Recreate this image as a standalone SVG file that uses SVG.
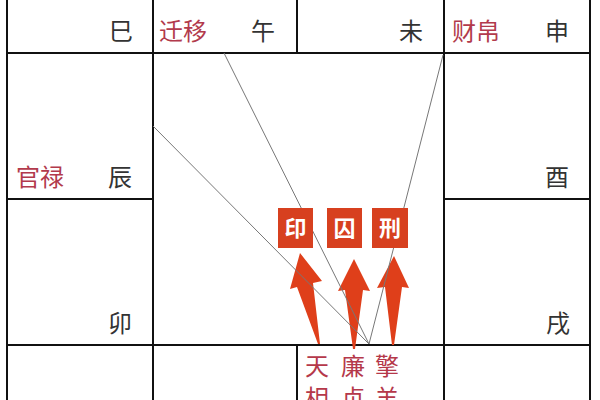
<svg xmlns="http://www.w3.org/2000/svg" width="600" height="400" viewBox="0 0 600 400">
<style>
.grid{stroke:#111;stroke-width:2;fill:none}
.br{font-family:"Noto Sans CJK SC","Noto Sans",sans-serif;font-size:24px;fill:#333}
.pal{font-family:"Noto Sans CJK SC","Noto Sans",sans-serif;font-size:24px;fill:#b23a4c}
.star{font-family:"Noto Sans CJK SC","Noto Sans",sans-serif;font-size:24px;fill:#b5384a}
.tag{fill:#d7401f}
.tagt{font-family:"Noto Sans CJK SC","Noto Sans",sans-serif;font-size:22px;font-weight:bold;fill:#fff;text-anchor:middle}
.arr{fill:#df3f1a}
.ln{stroke:#777;stroke-width:1;fill:none}
</style>
<rect width="600" height="400" fill="#fff"/>
<g id="grid" class="grid">
<line x1="7" y1="0" x2="7" y2="400"/>
<line x1="153" y1="0" x2="153" y2="400"/>
<line x1="297" y1="0" x2="297" y2="53"/>
<line x1="297" y1="345" x2="297" y2="400"/>
<line x1="444" y1="0" x2="444" y2="400"/>
<line x1="590" y1="0" x2="590" y2="400"/>
<line x1="7" y1="53" x2="590" y2="53"/>
<line x1="7" y1="199" x2="153" y2="199"/>
<line x1="444" y1="199" x2="590" y2="199"/>
<line x1="7" y1="345" x2="590" y2="345"/>
</g>
<g id="cell-si"><text class="br" x="109" y="40">巳</text></g>
<g id="cell-wu"><text class="pal" x="159" y="40">迁移</text><text class="br" x="251" y="40">午</text></g>
<g id="cell-wei"><text class="br" x="399" y="40">未</text></g>
<g id="cell-shen"><text class="pal" x="452" y="40">财帛</text><text class="br" x="545" y="40">申</text></g>
<g id="cell-chen"><text class="pal" x="16" y="186">官禄</text><text class="br" x="108" y="186">辰</text></g>
<g id="cell-you"><text class="br" x="545" y="186">酉</text></g>
<g id="cell-mao"><text class="br" x="108" y="332">卯</text></g>
<g id="cell-xu"><text class="br" x="546" y="332">戌</text></g>
<g id="cell-zi">
<text class="star" x="305" y="375">天</text><text class="star" x="341" y="375">廉</text><text class="star" x="375" y="375">擎</text>
<text class="star" x="305" y="407">相</text><text class="star" x="341" y="407">贞</text><text class="star" x="375" y="407">羊</text>
</g>
<g id="connectors">
<polygon class="arr" points="300,253 322,281 313,283 320,344 318,344 297,287 290,289"/>
<polygon class="arr" points="354,259 370,291 363,290 355,349 353,349 345,290 338,291"/>
<polygon class="arr" points="394,256 409,288 402,287 394,345 392,345 385,287 377,288"/>
<line class="ln" x1="153" y1="126" x2="369" y2="344"/>
<line class="ln" x1="224" y1="53" x2="369" y2="344"/>
<line class="ln" x1="443" y1="55" x2="369" y2="344"/>
</g>
<g id="tag-yin"><rect class="tag" x="278" y="208" width="35" height="40"/><text class="tagt" x="295.5" y="236">印</text></g>
<g id="tag-qiu"><rect class="tag" x="327" y="208" width="35" height="40"/><text class="tagt" x="344.5" y="236">囚</text></g>
<g id="tag-xing"><rect class="tag" x="372" y="208" width="36" height="40"/><text class="tagt" x="390" y="236">刑</text></g>
</svg>
